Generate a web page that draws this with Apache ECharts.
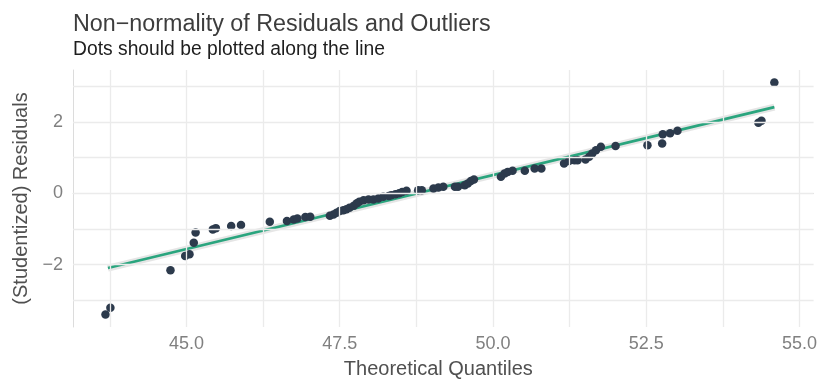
<!DOCTYPE html>
<html>
<head>
<meta charset="utf-8">
<script src="https://cdn.jsdelivr.net/npm/echarts@6/dist/echarts.min.js"></script>
<style>
html,body{margin:0;padding:0;background:#fff;}
#chart{width:820px;height:385px;}
</style>
</head>
<body>
<div id="chart"></div>
<script>
// Theoretical quantiles (x) and studentized residuals (y)
const qx = [43.68,43.76,44.74,44.98,45.05,45.12,45.15,45.43,45.48,45.73,45.89,46.36,46.64,46.75,46.81,46.94,47.02,47.34,47.40,47.45,47.50,47.56,47.61,47.66,47.73,47.78,47.82,47.89,47.97,48.05,48.13,48.21,48.30,48.34,48.41,48.47,48.52,48.59,48.78,48.84,49.03,49.11,49.19,49.38,49.43,49.54,49.59,49.64,49.69,50.13,50.19,50.24,50.32,50.52,50.68,50.79,51.16,51.24,51.33,51.38,51.51,51.57,51.62,51.68,51.76,52.00,52.52,52.76,52.77,52.89,53.01,54.33,54.38,54.59];
const ry = [-3.40,-3.21,-2.16,-1.76,-1.71,-1.39,-1.10,-1.02,-0.98,-0.92,-0.89,-0.80,-0.78,-0.74,-0.71,-0.67,-0.66,-0.63,-0.60,-0.55,-0.50,-0.48,-0.45,-0.41,-0.35,-0.28,-0.24,-0.20,-0.18,-0.18,-0.15,-0.10,-0.08,-0.06,-0.03,0.00,0.03,0.07,0.08,0.08,0.13,0.16,0.18,0.18,0.18,0.22,0.27,0.34,0.38,0.46,0.55,0.59,0.63,0.63,0.69,0.69,0.83,0.90,0.92,0.92,0.94,1.02,1.11,1.20,1.30,1.32,1.34,1.39,1.65,1.68,1.75,1.97,2.03,3.10];
// Reference line end points
const lineX = [43.72, 54.59];
const lineY = [-2.10, 2.41];
// Axis ticks
const xTicks = [45.0, 47.5, 50.0, 52.5, 55.0];
const xGrid = [43.75, 45.0, 46.25, 47.5, 48.75, 50.0, 51.25, 52.5, 53.75, 55.0];
const yTicks = [-2, 0, 2];
const yGrid = [-3, -2, -1, 0, 1, 2, 3];

const points = qx.map((x, i) => [x, ry[i]]);
const lineData = lineX.map((x, i) => [x, lineY[i]]);
const gridCol = '#ebebeb';
const font = 'Liberation Sans, Arial, sans-serif';

const chart = echarts.init(document.getElementById('chart'), null, {renderer: 'canvas'});
chart.setOption({
  animation: false,
  backgroundColor: '#ffffff',
  title: [
    {text: 'Non\u2212normality of Residuals and Outliers', left: 73, top: 13, padding: 0,
     textStyle: {fontFamily: font, fontSize: 23.3, fontWeight: 'normal', color: '#3d3d3d'}},
    {text: 'Dots should be plotted along the line', left: 73, top: 40, padding: 0,
     textStyle: {fontFamily: font, fontSize: 19.3, fontWeight: 'normal', color: '#1e1e1e'}}
  ],
  grid: {left: 73, right: 3, top: 70, bottom: 58, containLabel: false},
  xAxis: {
    type: 'value', min: 43.15, max: 55.23,
    name: 'Theoretical Quantiles', nameLocation: 'middle', nameGap: 32,
    nameTextStyle: {fontFamily: font, fontSize: 20, color: '#505050', padding: [0, 10, 0, 0]},
    axisLine: {show: true, lineStyle: {color: '#dcdcdc', width: 1}},
    axisTick: {show: false},
    splitLine: {show: false},
    axisLabel: {customValues: xTicks, formatter: v => v.toFixed(1), fontFamily: font, fontSize: 18, color: '#808080', margin: 8, showMaxLabel: true}
  },
  yAxis: {
    type: 'value', min: -3.75, max: 3.45,
    name: '(Studentized) Residuals', nameLocation: 'middle', nameGap: 41, nameRotate: 90,
    nameTextStyle: {fontFamily: font, fontSize: 20, color: '#505050'},
    axisLine: {show: true, lineStyle: {color: '#dcdcdc', width: 1}},
    axisTick: {show: false},
    splitLine: {show: false},
    axisLabel: {customValues: yTicks, formatter: v => (v < 0 ? '\u2212' + Math.abs(v) : String(v)), fontFamily: font, fontSize: 18, color: '#808080', margin: 10}
  },
  series: [
    {
      type: 'line', data: [], silent: true, z: 0,
      markLine: {
        silent: true, symbol: 'none', animation: false,
        label: {show: false},
        lineStyle: {color: gridCol, width: 1.3, type: 'solid'},
        data: xGrid.map(v => ({xAxis: v})).concat(yGrid.map(v => ({yAxis: v})))
      }
    },
    {
      type: 'line', data: lineData, showSymbol: false, silent: true, z: 2,
      lineStyle: {color: 'rgba(150,150,150,0.25)', width: 7}
    },
    {
      type: 'line', data: lineData, showSymbol: false, silent: true, z: 3,
      lineStyle: {color: '#2aa57e', width: 2.6}
    },
    {
      type: 'scatter', data: points, symbolSize: 8.5, z: 4,
      itemStyle: {color: '#2c3a4c', opacity: 1}
    }
  ]
});
</script>
</body>
</html>
